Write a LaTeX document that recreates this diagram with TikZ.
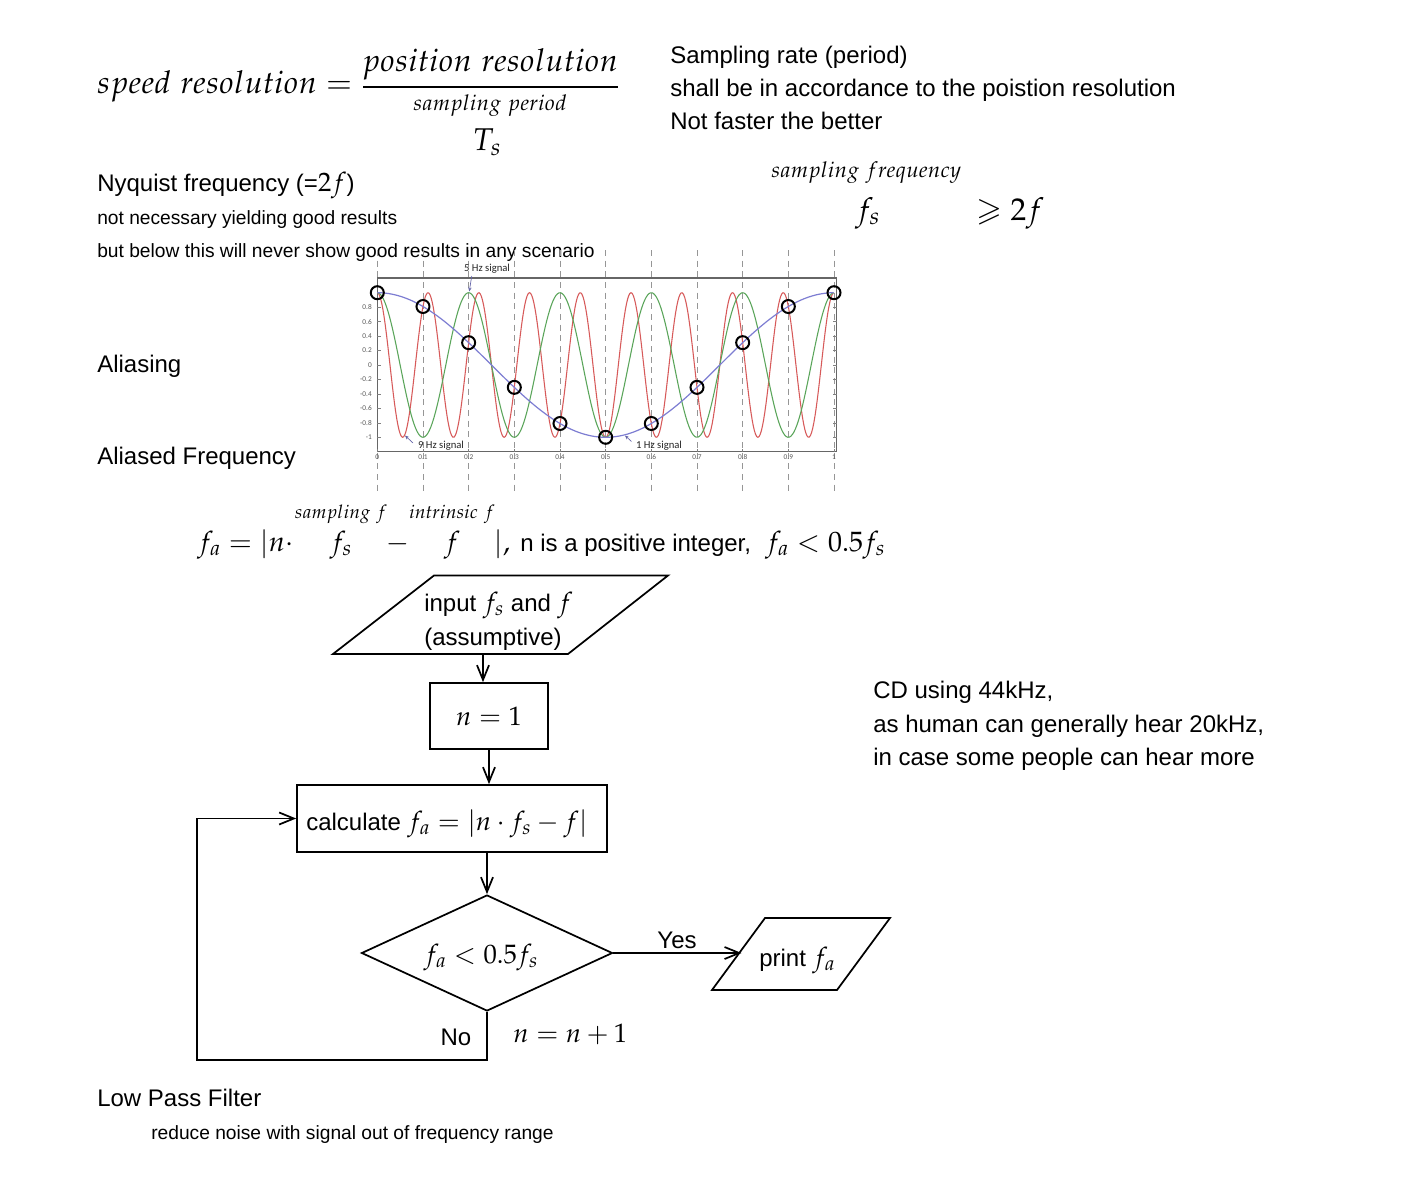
\documentclass[tikz,border=0pt]{standalone}
\usepackage{amsmath,amssymb}
\usepackage{mathpazo}
\usepackage[no-math]{fontspec}
\newfontfamily\arial{Liberation Sans}
\newfontfamily\calib{Carlito}
\usetikzlibrary{arrows.meta,shapes.geometric}
\definecolor{sigred}{RGB}{215,90,90}
\definecolor{siggreen}{RGB}{90,165,90}
\definecolor{sigblue}{RGB}{125,125,210}
\definecolor{gridgray}{RGB}{150,150,150}
\newcommand\mm[1]{{\fontsize{20}{24}\selectfont$#1$}}
\tikzset{
  txt/.style={font=\arial\fontsize{18}{22}\selectfont, anchor=base west, inner sep=0pt},
  smalltxt/.style={font=\arial\fontsize{14.4}{17}\selectfont, anchor=base west, inner sep=0pt},
  bigm/.style={font=\fontsize{23.6}{28}\selectfont, inner sep=0pt},
  midm/.style={font=\fontsize{21}{25}\selectfont, inner sep=0pt},
  smallm/.style={font=\fontsize{16.3}{20}\selectfont, inner sep=0pt},
  tinym/.style={font=\fontsize{14}{17}\selectfont, inner sep=0pt},
  arr/.style={-{Straight Barb[length=11pt,width=9pt]}, line width=1.3pt},
  fline/.style={line width=1.3pt},
  procbox/.style={draw, line width=1.3pt, inner sep=0pt, font=\arial\fontsize{18}{22}\selectfont},
  ticklab/.style={font=\calib\fontsize{5.5}{6}\selectfont, text=gray!70!black, inner sep=0pt},
  plotlab/.style={font=\calib\fontsize{8}{9}\selectfont, text=black!85, inner sep=0pt},
  griddash/.style={gridgray, line width=0.6pt, dash pattern=on 4.5pt off 3.5pt},
  sample/.style={black, line width=1.5pt},
  smallarr/.style={-{Stealth[length=3pt,width=2.5pt]}, sigblue!80!black, line width=0.5pt}
}
\begin{document}
\begin{tikzpicture}[x=0.75pt,y=-0.75pt]
\useasboundingbox (0,0) rectangle (1402,1177);
\fill[white] (0,0) rectangle (1402,1177);

% ---------- top formula ----------
\node[bigm, anchor=base west] (sr) at (97,94) {$speed\ resolution =$};
\node[bigm, anchor=base] (pr) at (490,72) {$position\ resolution$};
\draw[line width=0.9pt] (363,87) -- (618,87);
\node[smallm, anchor=base] (sp) at (490,111) {$sampling\ period$};
\node[bigm, anchor=base] (ts) at (487,151) {$T_s$};

% ---------- right notes ----------
\node[txt] (n1a) at (670,64) {Sampling rate (period)};
\node[txt] (n1b) at (670,97) {shall be in accordance to the poistion resolution};
\node[txt] (n1c) at (670,130) {Not faster the better};
\node[smallm, anchor=base west] (sfq) at (771,178) {$sampling\ frequency$};
\node[bigm, anchor=base west] (fs1) at (855,220) {$f_s$};
\node[bigm, anchor=base west] (ge2f) at (976,220) {$\geqslant 2f$};

% ---------- left notes ----------
\node[txt] (nyq) at (97,191) {Nyquist frequency (=\mm{2f})};
\node[smalltxt] (nyq1) at (97,224) {not necessary yielding good results};
\node[smalltxt] (nyq2) at (97,257) {but below this will never show good results in any scenario};
\node[txt] (alias) at (97,372) {Aliasing};
\node[txt] (aliasf) at (97,464) {Aliased Frequency};

% ---------- plot ----------
\foreach \k in {0,...,10}
  \draw[griddash] ({377.3+45.67*\k},250) -- ({377.3+45.67*\k},495);
\draw[gray!80!black, line width=0.8pt] (377.3,278) rectangle (836.5,451.7);
\foreach \v/\l in {0.8/0.8,0.6/0.6,0.4/0.4,0.2/0.2,0/0,-0.2/-0.2,-0.4/-0.4,-0.6/-0.6,-0.8/-0.8,-1/-1} {
  \node[ticklab, anchor=east] at (372,{365-72.3*\v}) {\l};
  \draw[gray, line width=0.4pt] (377.3,{365-72.3*\v}) -- (380.5,{365-72.3*\v});
  \draw[gray, line width=0.4pt] (836.5,{365-72.3*\v}) -- (833.3,{365-72.3*\v});
}
\foreach \k/\l in {0/0,1/0.1,2/0.2,3/0.3,4/0.4,5/0.5,6/0.6,7/0.7,8/0.8,9/0.9,10/1} {
  \node[ticklab] at ({377.3+45.67*\k},457.5) {\l};
  \draw[gray, line width=0.4pt] ({377.3+45.67*\k},451.7) -- ({377.3+45.67*\k},448.5);
}
\draw[sigred, line width=0.8pt] plot[domain=0:1, samples=400] ({377.3+456.7*\x},{365-72.3*cos(3240*\x)});
\draw[siggreen, line width=0.8pt] plot[domain=0:1, samples=300] ({377.3+456.7*\x},{365-72.3*cos(1800*\x)});
\draw[sigblue, line width=0.9pt] plot[domain=0:1, samples=200] ({377.3+456.7*\x},{365-72.3*cos(360*\x)});
\foreach \k in {0,...,10}
  \draw[sample] ({377.3+45.67*\k},{365-72.3*cos(36*\k)}) circle[radius=6.5];
\node[plotlab] (l5) at (487,269) {5 Hz signal};
\node[plotlab] (l9) at (441,446) {9 Hz signal};
\node[plotlab] (l1) at (659,446) {1 Hz signal};
\coordinate (a5) at (469.3,291.5);
\coordinate (a9) at (405,435.5);
\coordinate (a1) at (625,435.5);
\draw[smallarr] (471.7,276) -- (a5);
\draw[smallarr] (413,443) -- (a9);
\draw[smallarr] (631.5,441.5) -- (a1);

% ---------- aliased frequency formula ----------
\node[midm, anchor=base west] (fa1) at (197,551) {$f_a = |n\cdot$};
\node[tinym, anchor=base] (sampf) at (341,518) {$sampling\ f$};
\node[midm, anchor=base] (fs2) at (341,551) {$f_s$};
\node[midm, anchor=base] (minus) at (398,551) {$-$};
\node[tinym, anchor=base] (intf) at (452,518) {$intrinsic\ f$};
\node[midm, anchor=base] (f2) at (452,551) {$f$};
\node[midm, anchor=base west] (bar) at (494,551) {$|,$};
\node[txt] (posint) at (520,551) {n is a positive integer,};
\node[midm, anchor=base west] (cond) at (765,551) {$f_a < 0.5f_s$};

% ---------- flowchart ----------
\draw[fline] (333,654) -- (434,575.5) -- (668,575.5) -- (568,654) -- cycle;
\node[txt] (inp1) at (424,611) {input \mm{f_s} and \mm{f}};
\node[txt] (inp2) at (424,645) {(assumptive)};
\coordinate (inB) at (483,654);

\node[procbox, minimum width=88.5pt, minimum height=49.5pt] (n1) at (489,716) {};
\node[inner sep=0pt] (n1t) at (489,716) {\mm{n = 1}};
\node[procbox, minimum width=232.5pt, minimum height=50.25pt] (calc) at (452,818.5) {};
\node[txt] (calct) at (306,830) {calculate \mm{f_a = |n\cdot f_s - f|}};
\node[draw, shape=diamond, line width=1.3pt, inner sep=0pt, minimum width=188.25pt, minimum height=87pt] (dia) at (487,953) {};
\node[inner sep=0pt] (diat) at (481,957) {\mm{f_a < 0.5f_s}};

\draw[fline] (712,990) -- (765,918) -- (890,918) -- (837,990) -- cycle;
\node[txt] (prt) at (759,966) {print \mm{f_a}};
\coordinate (prL) at (741.5,953);

\coordinate (lc) at (197,1060);

\draw[arr] (inB) -- (inB |- n1.north);
\draw[arr] (n1.south) -- (n1.south |- calc.north);
\draw[arr] (dia.north |- calc.south) -- (dia.north);
\draw[arr] (dia.east) -- (prL);
\node[txt, anchor=base] (yes) at (677,948) {Yes};
\draw[arr] (dia.south) -- (dia.south |- lc) -- (lc) -- (lc |- calc.west) -- (calc.west);
\node[txt, anchor=base] (no) at (456,1045) {No};
\node[anchor=base west, inner sep=0pt] (nn1) at (513,1042) {\mm{n = n + 1}};

% ---------- CD notes ----------
\node[txt] (cd1) at (873,698) {CD using 44kHz,};
\node[txt] (cd2) at (873,732) {as human can generally hear 20kHz,};
\node[txt] (cd3) at (873,765) {in case some people can hear more};

% ---------- low pass ----------
\node[txt] (lpf) at (97,1106) {Low Pass Filter};
\node[smalltxt] (lpf1) at (151,1139) {reduce noise with signal out of frequency range};
\end{tikzpicture}
\end{document}
